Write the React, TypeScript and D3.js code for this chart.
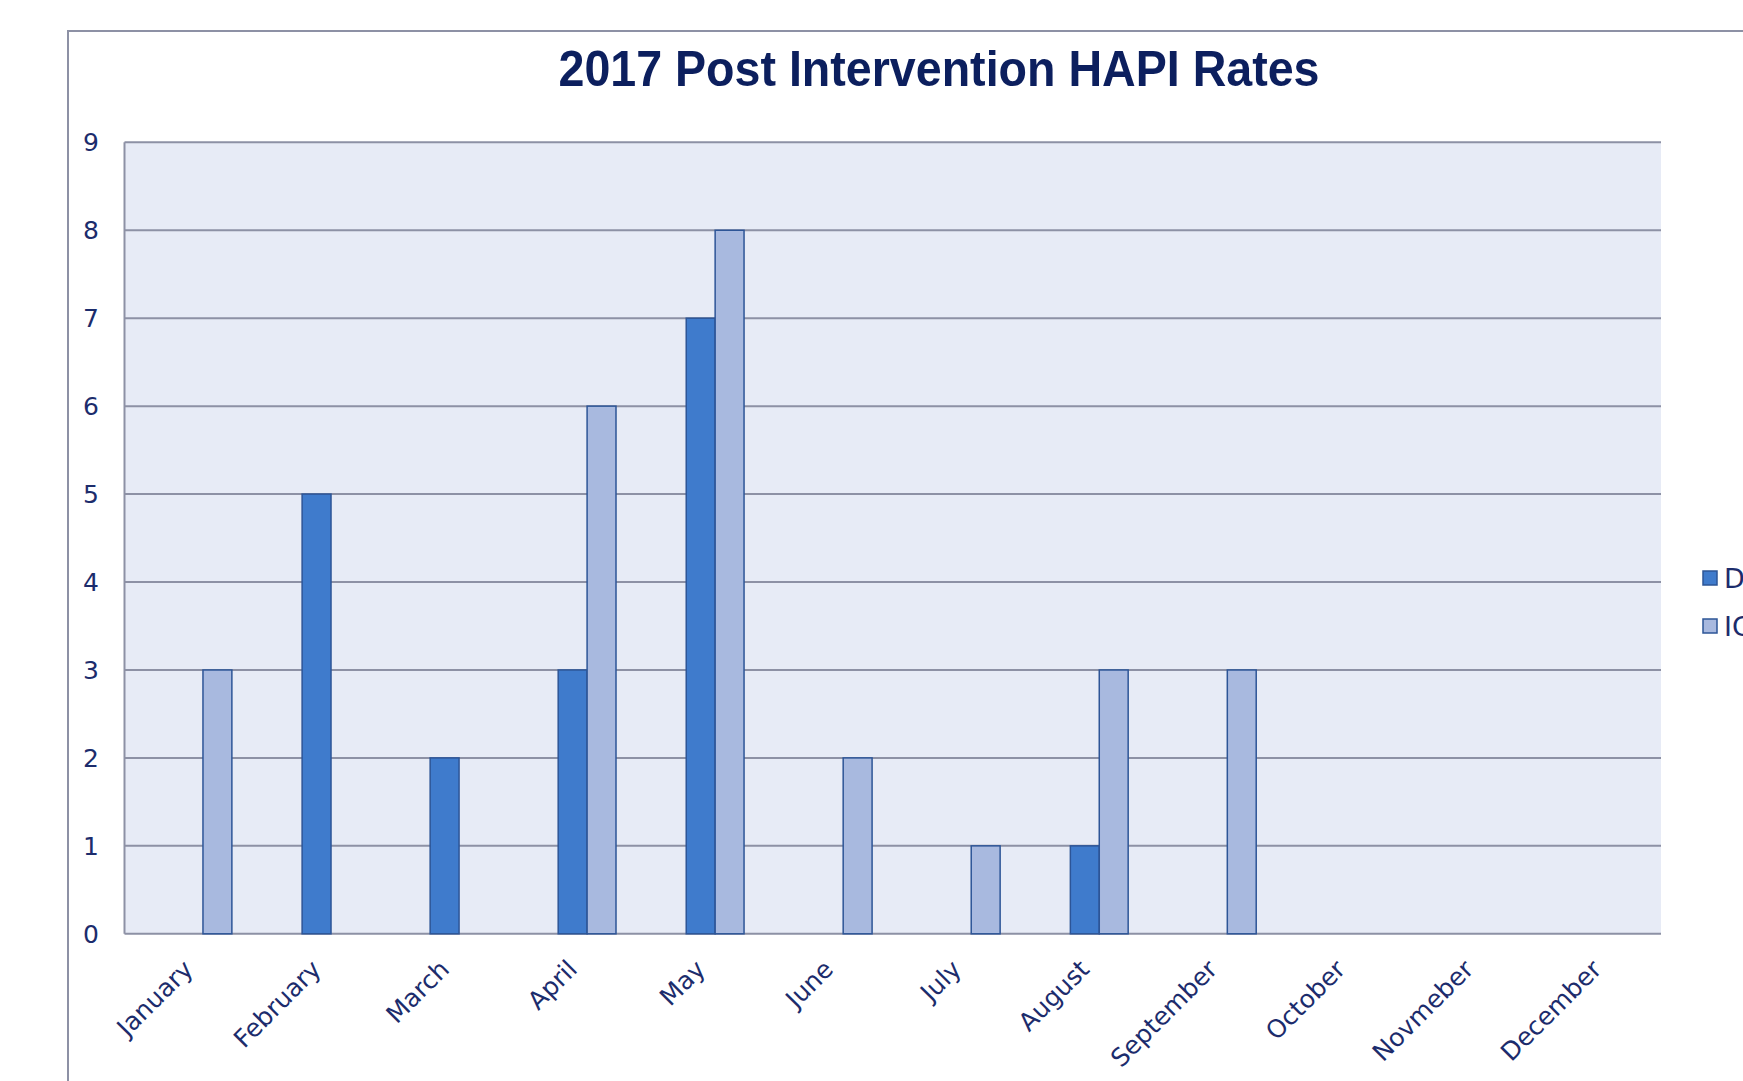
import { useRef, useEffect } from "react";
import * as d3 from "d3";

const months = [
  "January", "February", "March", "April", "May", "June",
  "July", "August", "September", "October", "Novmeber", "December",
];
const seriesNames = ["D", "IC"];
const dValues = [0, 5, 2, 3, 7, 0, 0, 1, 0, 0, 0, 0];
const icValues = [3, 0, 0, 6, 8, 2, 1, 3, 3, 0, 0, 0];
const yTicks = [0, 1, 2, 3, 4, 5, 6, 7, 8, 9];
const title = "2017 Post Intervention HAPI Rates";

const fills = ["#3f7bcc", "#a8b9df"];
const strokeCol = "#2d5597";
const gridCol = "#8d91a5";
const textCol = "#1c2c6c";

export default function App() {
  const svgRef = useRef<SVGSVGElement>(null);
  const width = 1743;
  const height = 1081;

  useEffect(() => {
    const svg = d3.select(svgRef.current);
    svg.selectAll("*").remove();

    const plot = { left: 124.5, right: 1661, top: 142.3, bottom: 933.8 };

    const x0 = d3.scaleBand<string>().domain(months).range([plot.left, plot.right]);
    const bw = x0.bandwidth();
    const barW = bw / (3 + 1.43);
    const x1 = d3
      .scaleBand<string>()
      .domain(seriesNames)
      .range([bw / 2 - barW / 2, bw / 2 + barW * 1.5]);
    const y = d3.scaleLinear().domain([0, 9]).range([plot.bottom, plot.top]);

    // outer chart frame (runs off the right and bottom edge)
    svg
      .append("rect")
      .attr("x", 68)
      .attr("y", 31)
      .attr("width", 3000)
      .attr("height", 3000)
      .attr("fill", "#fff")
      .attr("stroke", gridCol)
      .attr("stroke-width", 2);

    svg
      .append("text")
      .attr("x", 939)
      .attr("y", 86)
      .attr("text-anchor", "middle")
      .attr("font-family", "'Liberation Sans Narrow', 'Liberation Sans', sans-serif")
      .attr("font-weight", "bold")
      .attr("font-size", 50)
      .attr("fill", "#0c1f5e")
      .attr("textLength", 761)
      .attr("lengthAdjust", "spacingAndGlyphs")
      .text(title);

    svg
      .append("rect")
      .attr("x", plot.left)
      .attr("y", plot.top)
      .attr("width", plot.right - plot.left)
      .attr("height", plot.bottom - plot.top)
      .attr("fill", "#e7ebf6");

    svg
      .append("g")
      .selectAll("line")
      .data(yTicks)
      .join("line")
      .attr("x1", plot.left)
      .attr("x2", plot.right)
      .attr("y1", (d) => y(d))
      .attr("y2", (d) => y(d))
      .attr("stroke", gridCol)
      .attr("stroke-width", 2);

    svg
      .append("line")
      .attr("x1", plot.left)
      .attr("x2", plot.left)
      .attr("y1", plot.top)
      .attr("y2", plot.bottom)
      .attr("stroke", gridCol)
      .attr("stroke-width", 2);

    svg
      .append("g")
      .attr("font-family", "'DejaVu Sans', sans-serif")
      .attr("font-size", 25)
      .attr("fill", textCol)
      .attr("text-anchor", "end")
      .selectAll("text")
      .data(yTicks)
      .join("text")
      .attr("x", 99)
      .attr("y", (d) => y(d))
      .attr("dy", "0.36em")
      .text((d) => d);

    const rows = months.map((m, i) => ({ m, vals: [dValues[i], icValues[i]] }));
    const groups = svg
      .append("g")
      .selectAll("g")
      .data(rows)
      .join("g")
      .attr("transform", (d) => `translate(${x0(d.m)},0)`);
    groups
      .selectAll("rect")
      .data((d) => d.vals.map((v, k) => ({ v, k })).filter((e) => e.v > 0))
      .join("rect")
      .attr("x", (e) => x1(seriesNames[e.k])!)
      .attr("width", x1.bandwidth())
      .attr("y", (e) => y(e.v))
      .attr("height", (e) => y(0) - y(e.v))
      .attr("fill", (e) => fills[e.k])
      .attr("stroke", strokeCol)
      .attr("stroke-width", 1.5);

    svg
      .append("g")
      .attr("font-family", "'DejaVu Sans', sans-serif")
      .attr("font-size", 25)
      .attr("fill", textCol)
      .attr("text-anchor", "end")
      .selectAll("text")
      .data(months)
      .join("text")
      .attr("transform", (m) => `translate(${x0(m)! + bw / 2 + 6},${plot.bottom + 37}) rotate(-45)`)
      .text((m) => m);

    const legend = svg
      .append("g")
      .selectAll("g")
      .data(seriesNames)
      .join("g")
      .attr("transform", (_, i) => `translate(1703,${571 + i * 48})`);
    legend
      .append("rect")
      .attr("width", 14)
      .attr("height", 14)
      .attr("fill", (_, i) => fills[i])
      .attr("stroke", strokeCol)
      .attr("stroke-width", 1.5);
    legend
      .append("text")
      .attr("x", 21)
      .attr("y", 17)
      .attr("font-family", "'DejaVu Sans', sans-serif")
      .attr("font-size", 27)
      .attr("fill", textCol)
      .text((d) => d);
  }, []);

  return (
    <>
      <style>{"body{margin:0;overflow:hidden}"}</style>
      <svg ref={svgRef} width={width} height={height} style={{ display: "block" }} />
    </>
  );
}
